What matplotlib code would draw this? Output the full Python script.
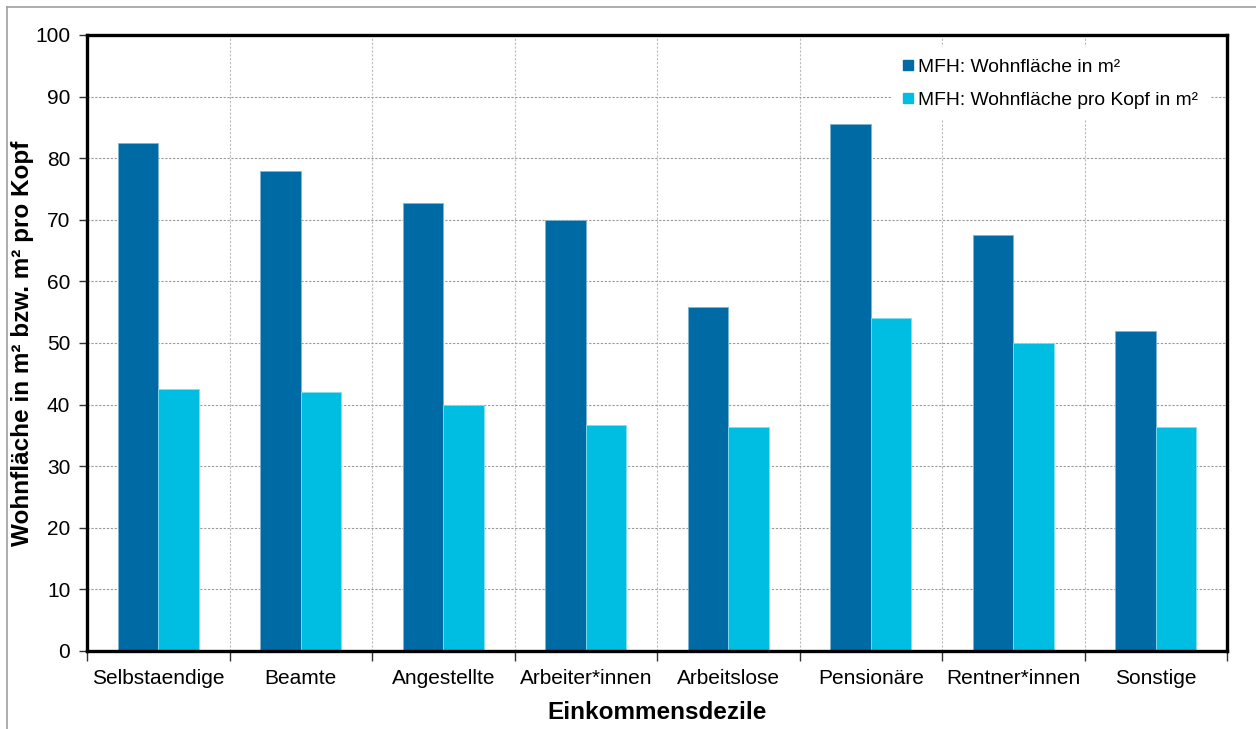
import numpy as np
import matplotlib.pyplot as plt
from matplotlib.lines import Line2D

plt.rcParams["font.family"] = ["Liberation Sans", "DejaVu Sans"]

# -----------------------
# Data
# -----------------------
categories = ["Selbstaendige", "Beamte", "Angestellte", "Arbeiter*innen",
              "Arbeitslose", "Pensionäre", "Rentner*innen", "Sonstige"]
wohnflaeche = [82.4, 77.9, 72.8, 70.0, 55.8, 85.5, 67.5, 51.9]
wohnflaeche_pro_kopf = [42.6, 42.0, 39.9, 36.7, 36.3, 54.1, 50.0, 36.3]

label_wf = "MFH: Wohnfläche in m²"
label_wfk = "MFH: Wohnfläche pro Kopf in m²"

DARK = "#006AA4"
CYAN = "#00BEE2"

# -----------------------
# Plot
# -----------------------
fig = plt.figure(figsize=(12.56, 7.29), dpi=100)
ax = fig.add_axes([87 / 1256, 1 - 651 / 729, (1227 - 87) / 1256, (651 - 35) / 729])

x = np.arange(len(categories))
w = 0.285

ax.bar(x - w / 2, wohnflaeche, width=w, color=DARK, edgecolor="#7FB4D1",
       linewidth=0.6, label=label_wf, zorder=3)
ax.bar(x + w / 2, wohnflaeche_pro_kopf, width=w, color=CYAN, edgecolor="#80DEF0",
       linewidth=0.6, label=label_wfk, zorder=3)

ax.set_xlim(-0.5, len(categories) - 0.5)
ax.set_ylim(0, 100)
ax.set_yticks(range(0, 101, 10))

# category labels in the middle, tick marks on the boundaries
ax.set_xticks(x)
ax.set_xticklabels(categories)
ax.set_xticks(np.arange(-0.5, len(categories)), minor=True)
ax.tick_params(axis="x", which="major", length=0, labelsize=15, pad=13)
ax.tick_params(axis="x", which="minor", length=7, width=1, color="#333333",
               direction="out")
ax.tick_params(axis="y", length=6, width=1, color="#333333", labelsize=15,
               direction="out", pad=6)

ax.grid(True, axis="y", which="major", color="#999999", linestyle=(0, (2, 1.5)),
        linewidth=0.8, zorder=0)
ax.grid(True, axis="x", which="minor", color="#BBBBBB", linestyle=(0, (2, 1.5)),
        linewidth=0.8, zorder=0)
ax.grid(False, axis="x", which="major")

for side in ["left", "right", "top", "bottom"]:
    ax.spines[side].set_linewidth(2.4)
    ax.spines[side].set_color("black")
    ax.spines[side].set_zorder(4)

ax.set_ylabel("Wohnfläche in m² bzw. m² pro Kopf", fontsize=17.5, fontweight="bold")
ax.yaxis.set_label_coords(-53 / 1140, 0.5)
ax.set_xlabel("Einkommensdezile", fontsize=17.5, fontweight="bold")
ax.xaxis.set_label_coords(0.5, -50 / 616)

handles = [
    Line2D([], [], marker="s", linestyle="none", markersize=7,
           markerfacecolor=DARK, markeredgecolor=DARK, label=label_wf),
    Line2D([], [], marker="s", linestyle="none", markersize=7,
           markerfacecolor=CYAN, markeredgecolor=CYAN, label=label_wfk),
]
leg = ax.legend(handles=handles, loc="upper right",
                bbox_to_anchor=((1210 - 87) / 1140, (651 - 47) / 616),
                borderaxespad=0, frameon=True, fontsize=13.9, handlelength=0.5,
                handletextpad=0.3, labelspacing=0.78, borderpad=0.6)
leg.get_frame().set_facecolor("white")
leg.get_frame().set_edgecolor("none")
leg.get_frame().set_alpha(1)
leg.set_zorder(5)

# thin gray frame around the chart
fig.add_artist(Line2D([7 / 1256, 7 / 1256], [0, 1 - 7 / 729], color="#A0A0A0",
                      linewidth=1.2))
fig.add_artist(Line2D([7 / 1256, 1], [1 - 7 / 729, 1 - 7 / 729], color="#A0A0A0",
                      linewidth=1.2))

plt.savefig("out.png", dpi=100)
